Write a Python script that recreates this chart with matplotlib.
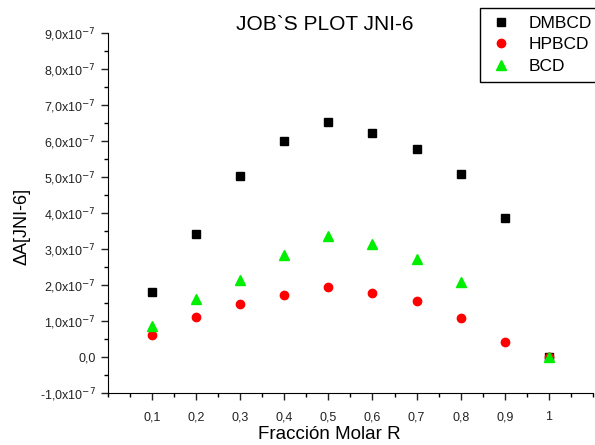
import matplotlib
matplotlib.use("Agg")
import matplotlib.pyplot as plt
from matplotlib.ticker import FixedLocator, MultipleLocator

plt.rcParams['font.family'] = ['Liberation Sans', 'DejaVu Sans']

# molar fraction
x = [0.1, 0.2, 0.3, 0.4, 0.5, 0.6, 0.7, 0.8, 0.9, 1.0]
x_bcd = [0.1, 0.2, 0.3, 0.4, 0.5, 0.6, 0.7, 0.8, 1.0]

dmbcd = [1.81e-7, 3.42e-7, 5.03e-7, 6.0e-7, 6.53e-7, 6.22e-7, 5.77e-7, 5.08e-7, 3.86e-7, 0.0]
hpbcd = [0.62e-7, 1.1e-7, 1.48e-7, 1.73e-7, 1.94e-7, 1.79e-7, 1.56e-7, 1.07e-7, 0.42e-7, 0.0]
bcd = [0.85e-7, 1.6e-7, 2.14e-7, 2.82e-7, 3.37e-7, 3.15e-7, 2.72e-7, 2.08e-7, 0.0]

xticks = [0.1, 0.2, 0.3, 0.4, 0.5, 0.6, 0.7, 0.8, 0.9, 1.0]
xticklabels = ['0,1', '0,2', '0,3', '0,4', '0,5', '0,6', '0,7', '0,8', '0,9', '1']
yticks = [-1e-7, 0, 1e-7, 2e-7, 3e-7, 4e-7, 5e-7, 6e-7, 7e-7, 8e-7, 9e-7]
yticklabels = ['-1,0x10$^{-7}$', '0,0', '1,0x10$^{-7}$', '2,0x10$^{-7}$', '3,0x10$^{-7}$',
               '4,0x10$^{-7}$', '5,0x10$^{-7}$', '6,0x10$^{-7}$', '7,0x10$^{-7}$',
               '8,0x10$^{-7}$', '9,0x10$^{-7}$']

fig = plt.figure(figsize=(5.95, 4.45), dpi=100)
ax = fig.add_axes([0.1815, 0.1169, 0.815, 0.8089])

ax.plot(x, dmbcd, 's', color='black', markersize=5.3, label='DMBCD', clip_on=False)
ax.plot(x, hpbcd, 'o', color='red', markersize=6, label='HPBCD', clip_on=False)
ax.plot(x_bcd, bcd, '^', color='#00ee00', markersize=6.5, label='BCD', clip_on=False)

ax.set_xlim(0, 1.1)
ax.set_ylim(-1e-7, 9e-7)
ax.spines['top'].set_visible(False)
ax.spines['right'].set_visible(False)

ax.xaxis.set_major_locator(FixedLocator(xticks))
ax.set_xticklabels(xticklabels)
ax.xaxis.set_minor_locator(MultipleLocator(0.05))
ax.yaxis.set_major_locator(FixedLocator(yticks))
ax.set_yticklabels(yticklabels)
ax.yaxis.set_minor_locator(MultipleLocator(0.5e-7))
ax.tick_params(which='major', direction='out', length=5, width=1, labelsize=9, colors='#222222')
ax.tick_params(which='minor', direction='out', length=3, width=1)
ax.tick_params(axis='x', pad=8)

ax.set_xlabel('Fracción Molar R', fontsize=13.5, va='baseline')
ax.xaxis.set_label_coords(0.456, -0.128)
ax.set_ylabel('ΔA[JNI-6]', fontsize=13, va='center')
ax.yaxis.set_label_coords(-0.177, 0.464)
fig.text(0.546, 0.945, 'JOB`S PLOT JNI-6', fontsize=15, ha='center', va='center')

leg = fig.legend(loc='upper left', bbox_to_anchor=(0.806, 0.982), borderaxespad=0,
                 fontsize=12.5, frameon=True, fancybox=False, edgecolor='black',
                 framealpha=1, handletextpad=0.8, borderpad=0.45, labelspacing=0.36,
                 handlelength=1.6)
leg.get_frame().set_linewidth(1)

fig.savefig('out.png', dpi=100)
